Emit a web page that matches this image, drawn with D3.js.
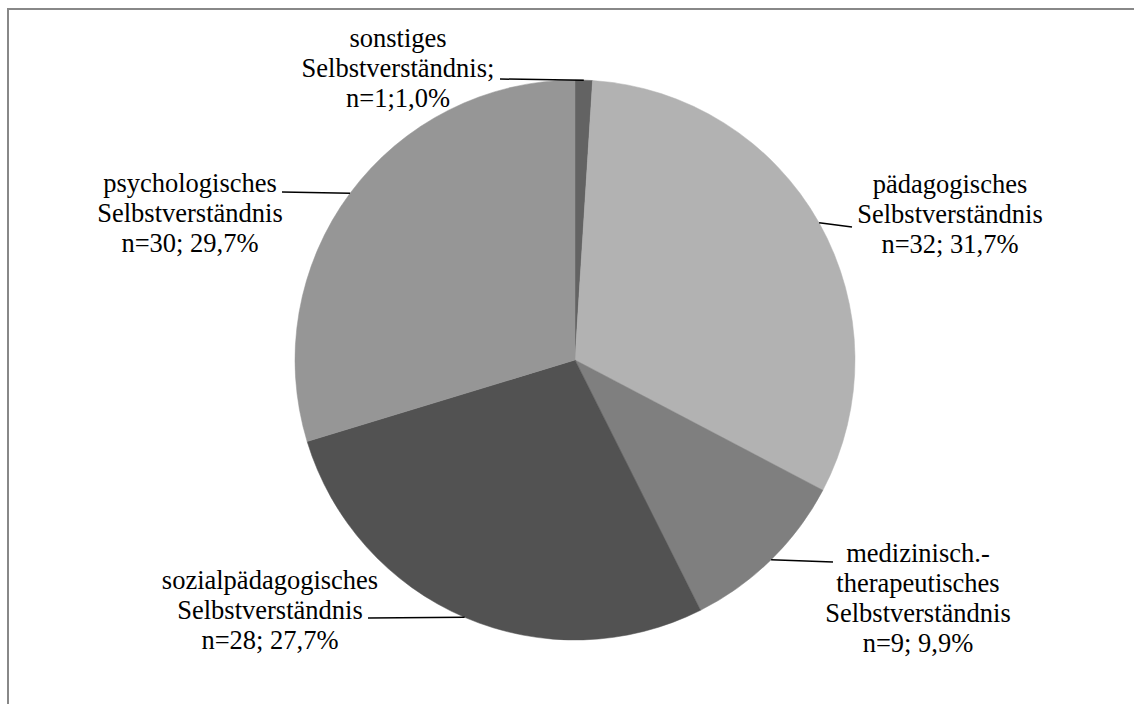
<!DOCTYPE html>
<html><head><meta charset="utf-8">
<script src="https://cdn.jsdelivr.net/npm/d3@7/dist/d3.min.js"></script>
</head><body style="margin:0">
<svg id="s" width="1134" height="704"></svg>
<script>
// ---- Data (clockwise from 12 o'clock) ----
const categories = ["sonstiges", "pädagogisches", "medizinisch", "sozialpädagogisches", "psychologisches"];
const percentValues = [1.0, 31.7, 9.9, 27.7, 29.7];
const labelLines = [
  ["sonstiges", "Selbstverständnis;", "n=1;1,0%"],
  ["pädagogisches", "Selbstverständnis", "n=32; 31,7%"],
  ["medizinisch.-", "therapeutisches", "Selbstverständnis", "n=9; 9,9%"],
  ["sozialpädagogisches", "Selbstverständnis", "n=28; 27,7%"],
  ["psychologisches", "Selbstverständnis", "n=30; 29,7%"]
];

// ---- Styles / layout (separate from data) ----
const sliceColors = ["#636363", "#b2b2b2", "#7f7f7f", "#525252", "#969696"];
const cx = 575, cy = 360, radius = 280;
const fontSize = 26.5, lineStep = 30;
const labelOffsets = [
  { x: -177, y: -313 },
  { x: 375, y: -167 },
  { x: 343, y: 202 },
  { x: -305, y: 229 },
  { x: -385, y: -168 }
];
const leaderEnds = [
  { x: -75, y: -281 },
  { x: 277, y: -133 },
  { x: 258, y: 202 },
  { x: -207, y: 258 },
  { x: -293, y: -168 }
];

const svg = d3.select("#s");

// frame (top and left edges)
svg.append("line").attr("x1", 7).attr("y1", 9).attr("x2", 1134).attr("y2", 9)
  .attr("stroke", "#888888").attr("stroke-width", 2);
svg.append("line").attr("x1", 8).attr("y1", 8).attr("x2", 8).attr("y2", 704)
  .attr("stroke", "#888888").attr("stroke-width", 2);

const data = categories.map((c, i) => ({ name: c, value: percentValues[i], i: i }));
const pie = d3.pie().sort(null).value(d => d.value);
const arcs = pie(data);
const arc = d3.arc().innerRadius(0).outerRadius(radius);
const edgeArc = d3.arc().innerRadius(radius).outerRadius(radius);

arcs.forEach(d => {
  const col = sliceColors[d.data.i];
  svg.append("path")
    .attr("d", arc(d))
    .attr("transform", "translate(" + cx + "," + cy + ")")
    .attr("fill", col)
    .attr("stroke", col)
    .attr("stroke-width", 0.5);
});

arcs.forEach(d => {
  const p = edgeArc.centroid(d);
  const e = leaderEnds[d.data.i];
  svg.append("line")
    .attr("x1", cx + p[0]).attr("y1", cy + p[1])
    .attr("x2", cx + e.x).attr("y2", cy + e.y)
    .attr("stroke", "#000")
    .attr("stroke-width", 1.5);
});

arcs.forEach(d => {
  const off = labelOffsets[d.data.i];
  labelLines[d.data.i].forEach((line, k) => {
    svg.append("text")
      .attr("x", cx + off.x)
      .attr("y", cy + off.y + k * lineStep)
      .attr("text-anchor", "middle")
      .style("font-family", "Times New Roman")
      .style("font-size", fontSize + "px")
      .text(line);
  });
});
</script></body></html>
